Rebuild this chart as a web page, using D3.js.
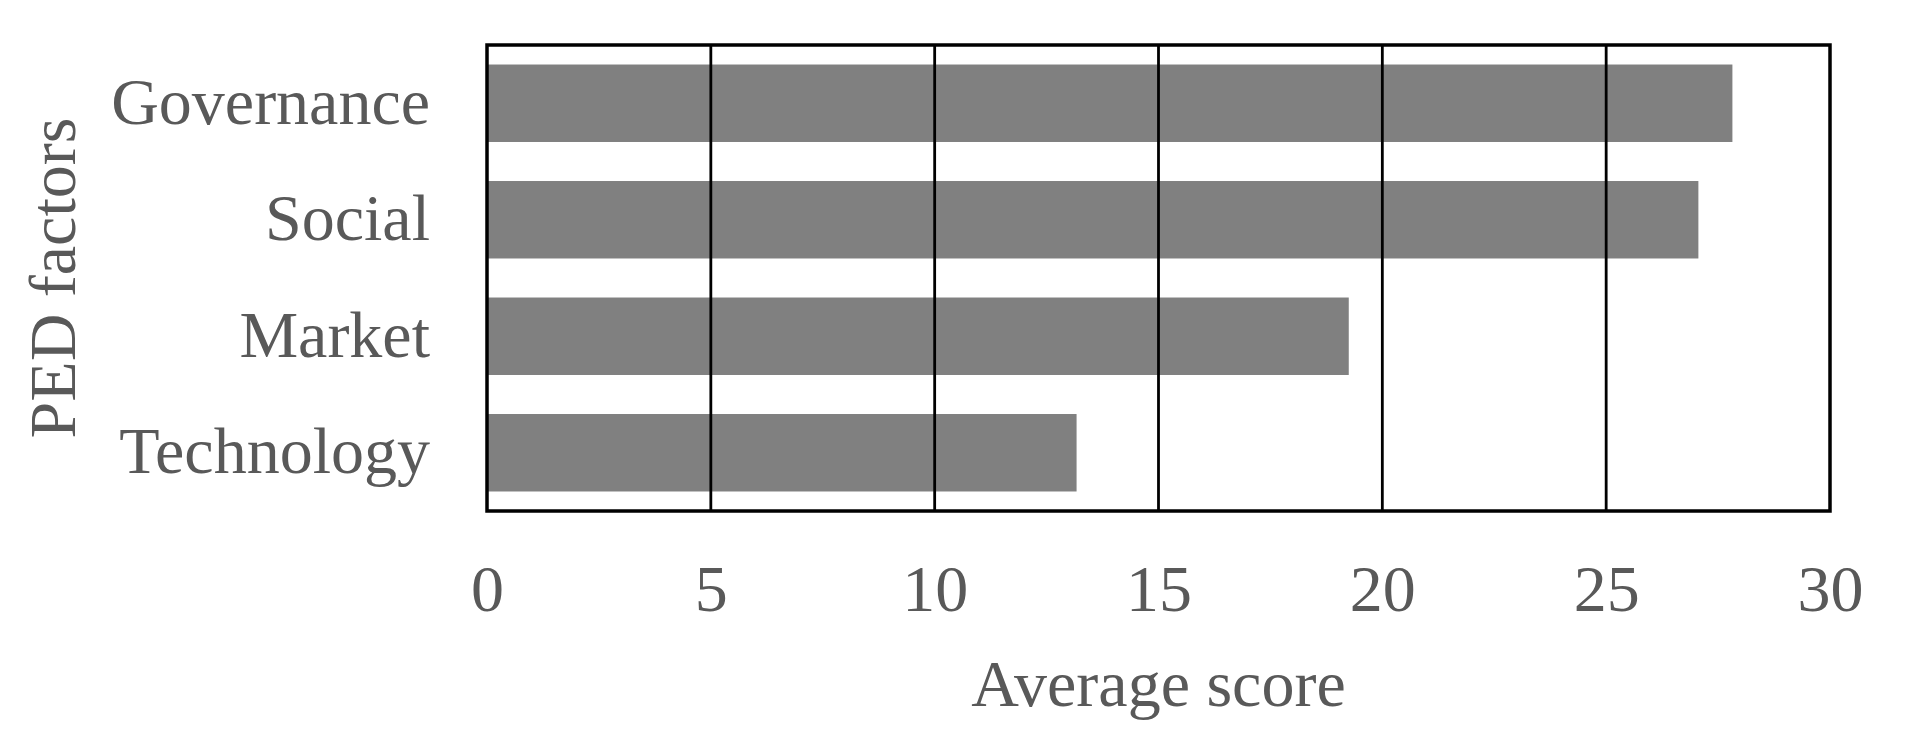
<!DOCTYPE html>
<html>
<head>
<meta charset="utf-8">
<script src="https://cdn.jsdelivr.net/npm/d3@7"></script>
<style>
  html, body { margin: 0; padding: 0; background: #fff; }
  svg { display: block; }
  text { font-family: "Liberation Serif", "Times New Roman", serif; fill: #595959; }
</style>
</head>
<body>
<svg id="chart" width="1926" height="738"></svg>
<script>
const categories = ["Governance", "Social", "Market", "Technology"];
const values = [27.82, 27.06, 19.25, 13.17];
const xTicks = [0, 5, 10, 15, 20, 25, 30];
const xTitle = "Average score";
const yTitle = "PED factors";

const W = 1926, H = 738;
const margin = { left: 487, right: 96, top: 45, bottom: 227 };
const svg = d3.select("#chart");
const iw = W - margin.left - margin.right;
const ih = H - margin.top - margin.bottom;

const x = d3.scaleLinear().domain([0, 30]).range([margin.left, margin.left + iw]);
const y = d3.scaleBand().domain(categories).range([margin.top, margin.top + ih]).paddingInner(0.335).paddingOuter(0.1675);

// bars
svg.append("g").selectAll("rect").data(categories).join("rect")
  .attr("x", x(0))
  .attr("y", d => y(d))
  .attr("width", (d, i) => x(values[i]) - x(0))
  .attr("height", y.bandwidth())
  .attr("fill", "#808080");

// gridlines
svg.append("g").selectAll("line").data(xTicks.filter(t => t > 0 && t < 30)).join("line")
  .attr("x1", d => x(d)).attr("x2", d => x(d))
  .attr("y1", margin.top).attr("y2", margin.top + ih)
  .attr("stroke", "#000").attr("stroke-width", 2.8);

// frame
svg.append("rect")
  .attr("x", margin.left).attr("y", margin.top)
  .attr("width", iw).attr("height", ih)
  .attr("fill", "none").attr("stroke", "#000").attr("stroke-width", 3.5);

// x axis labels
const xAxis = d3.axisBottom(x).tickValues(xTicks).tickSize(0).tickPadding(0).tickFormat(d3.format("d"));
const gx = svg.append("g").attr("transform", `translate(0,${margin.top + ih})`).call(xAxis);
gx.select(".domain").remove();
gx.selectAll("text")
  .attr("y", 100).attr("dy", null)
  .style("font-size", "66px")
  .style("font-family", '"Liberation Serif", serif')
  .attr("fill", "#595959");

// y axis labels
const yAxis = d3.axisLeft(y).tickSize(0).tickPadding(0);
const gy = svg.append("g").attr("transform", `translate(${margin.left - 57},0)`).call(yAxis);
gy.select(".domain").remove();
gy.selectAll("text")
  .attr("dy", "0.31em")
  .style("font-size", "66px")
  .style("font-family", '"Liberation Serif", serif')
  .attr("fill", "#595959");

// axis titles
svg.append("text")
  .attr("x", x(15)).attr("y", 706)
  .attr("text-anchor", "middle")
  .style("font-size", "66px")
  .text(xTitle);

svg.append("text")
  .attr("transform", `translate(75,${margin.top + ih / 2}) rotate(-90)`)
  .attr("text-anchor", "middle")
  .style("font-size", "66px")
  .text(yTitle);
</script>
</body>
</html>
